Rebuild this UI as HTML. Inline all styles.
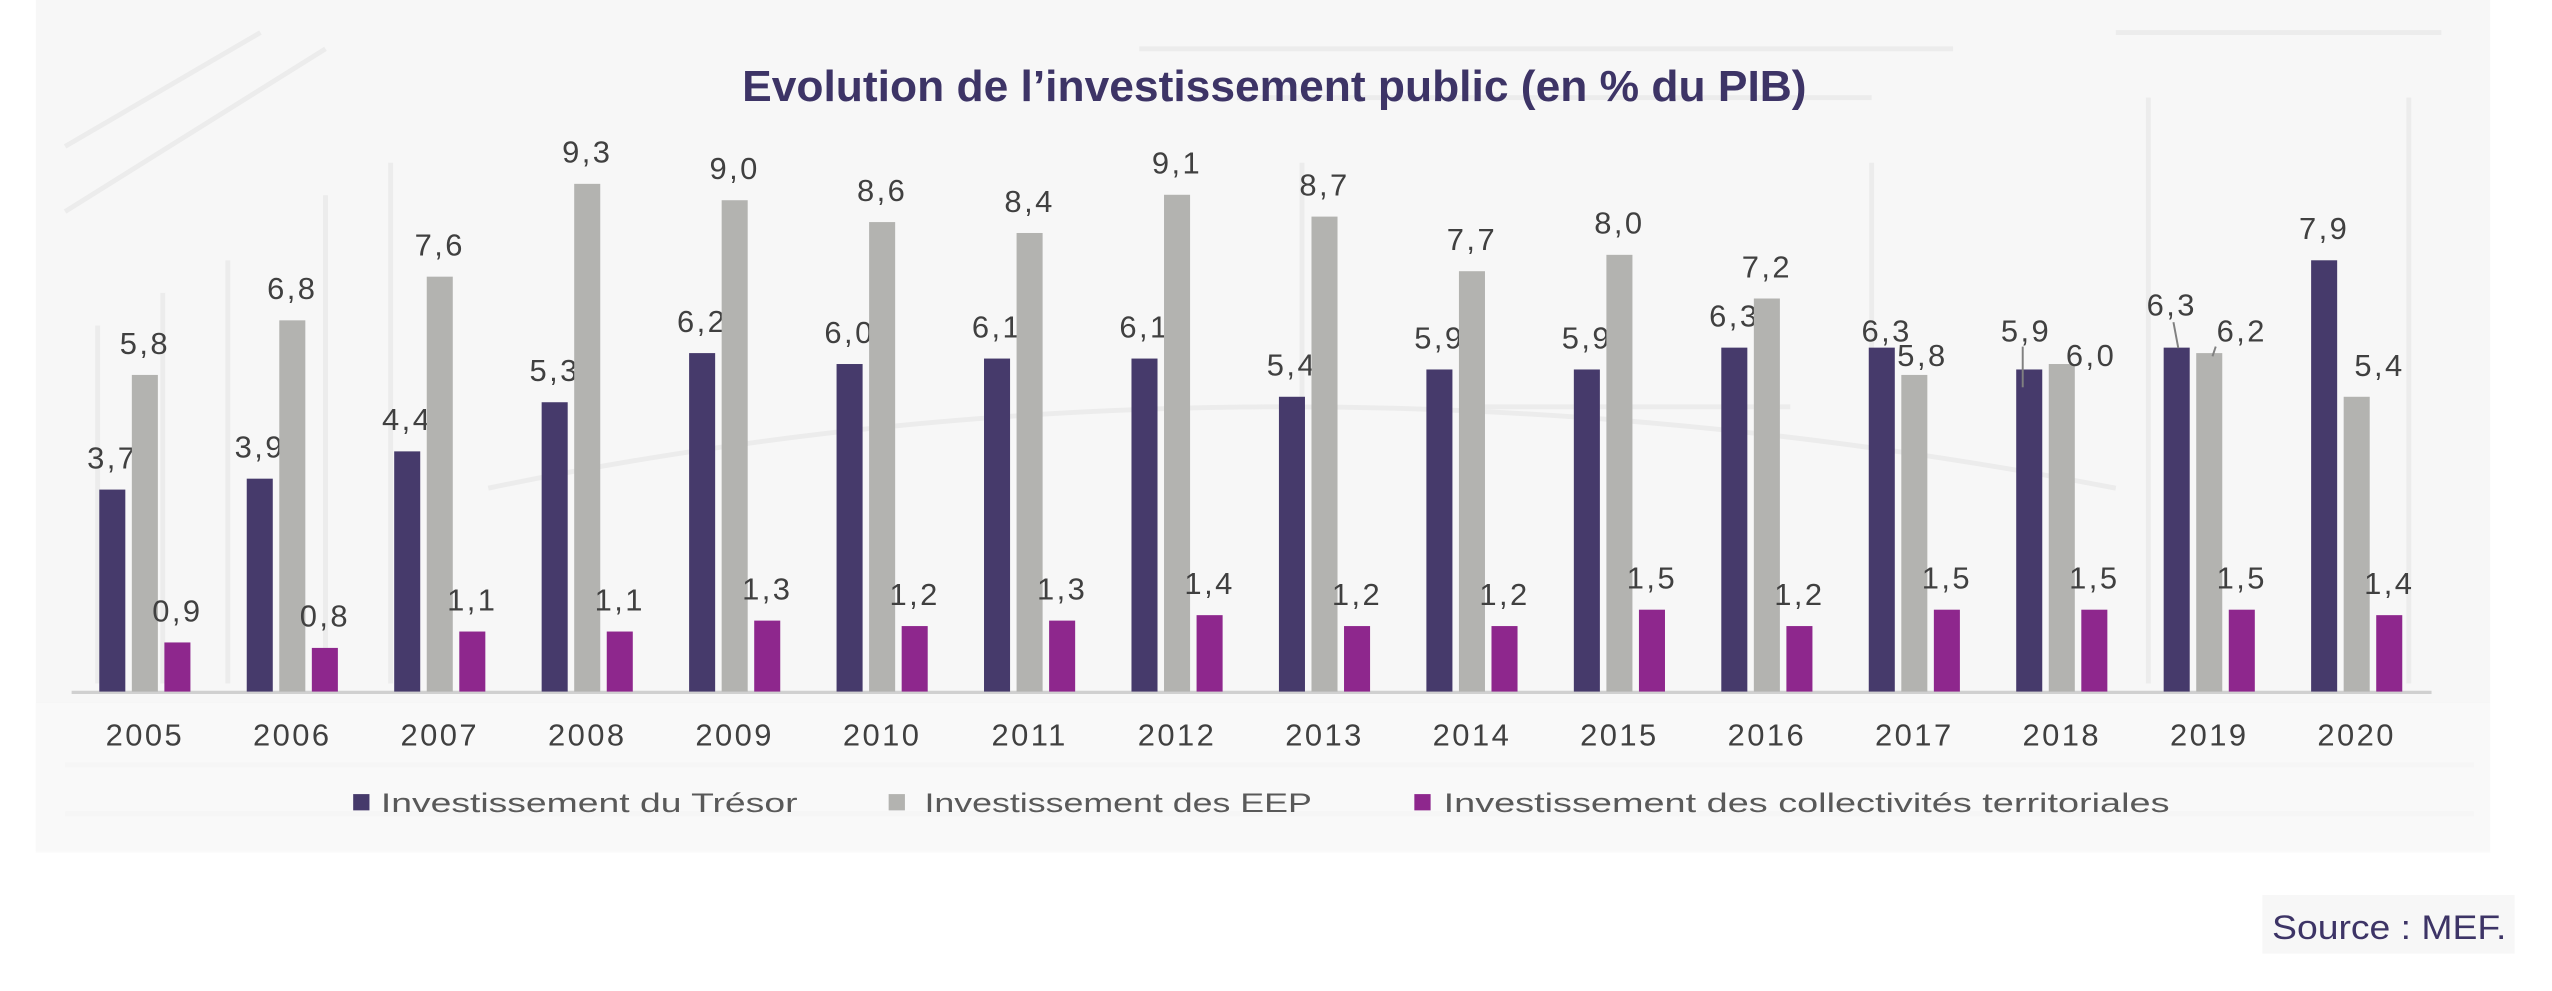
<!DOCTYPE html>
<html><head><meta charset="utf-8"><style>
html,body{margin:0;padding:0;background:#fff;}
svg{display:block;}
text{font-family:"Liberation Sans",sans-serif;}
</style></head><body>
<svg id="s" width="2552" height="991" viewBox="0 0 1568 609" preserveAspectRatio="none" xmlns="http://www.w3.org/2000/svg">
<rect x="0" y="0" width="1568" height="609" fill="#fff"/>
<rect x="22" y="0" width="1508" height="523" fill="#f7f7f7"/>
<g stroke="#ececec" stroke-width="3" fill="none">
<path d="M40 90 L160 20 M40 130 L200 30 M60 200 L60 420 M100 180 L100 420 M140 160 L140 420 M200 120 L200 420 M240 100 L240 420"/>
<path d="M700 30 L1200 30 M760 60 L1150 60 M800 100 L800 420 M1150 100 L1150 420 M900 250 L1100 250 M1300 20 L1500 20 M1320 60 L1320 420 M1480 60 L1480 420"/>
<path d="M300 300 Q780 200 1300 300 M40 470 L1520 470 M40 500 L1520 500"/>
</g>
<rect x="22" y="432" width="1508" height="92" fill="#f9f9f9" opacity="0.8"/>
<text x="783" y="62" text-anchor="middle" font-size="27" font-weight="bold" fill="#3d3466" textLength="654" lengthAdjust="spacingAndGlyphs">Evolution de l’investissement public (en % du PIB)</text>
<line x1="44" y1="425.5" x2="1494" y2="425.5" stroke="#d0d0d0" stroke-width="2"/>
<g id="bars"></g>
<g font-size="16.5" fill="#595959">
<rect x="217" y="488" width="10" height="10" fill="#463a6b"/>
<text x="234" y="499" textLength="256" lengthAdjust="spacingAndGlyphs">Investissement du Trésor</text>
<rect x="546" y="488" width="10" height="10" fill="#b3b3b0"/>
<text x="568" y="499" textLength="238" lengthAdjust="spacingAndGlyphs">Investissement des EEP</text>
<rect x="869" y="488" width="10" height="10" fill="#8e278d"/>
<text x="887" y="499" textLength="446" lengthAdjust="spacingAndGlyphs">Investissement des collectivités territoriales</text>
</g>
<rect x="1390" y="550" width="155" height="36" fill="#f7f7f7"/>
<text x="1396" y="577" font-size="21" fill="#3d3466" textLength="144" lengthAdjust="spacingAndGlyphs">Source : MEF.</text>
</svg>
<script>
var T=[3.7,3.9,4.4,5.3,6.2,6.0,6.1,6.1,5.4,5.9,5.9,6.3,6.3,5.9,6.3,7.9];
var E=[5.8,6.8,7.6,9.3,9.0,8.6,8.4,9.1,8.7,7.7,8.0,7.2,5.8,6.0,6.2,5.4];
var C=[0.9,0.8,1.1,1.1,1.3,1.2,1.3,1.4,1.2,1.2,1.5,1.2,1.5,1.5,1.5,1.4];
var cols=["#463a6b","#b3b3b0","#8e278d"];
var K=33.55,B=425,h="";
function f(v){return v.toFixed(1).replace(".",",");}
function lab(x,y,t){return '<text x="'+x+'" y="'+y+'" text-anchor="middle" font-size="19" letter-spacing="1.5" fill="#404040">'+t+'</text>';}
for(var i=0;i<16;i++){
 var c=89+90.6*i;
 [T[i],E[i],C[i]].forEach(function(v,j){
  var x=c-28+20*j, top=B-v*K;
  h+='<rect x="'+x+'" y="'+top+'" width="16" height="'+(v*K)+'" fill="'+cols[j]+'"/>';
  var lx=x+8, ly=top-13;
  if(i==12&&j==0){lx=c-17;ly=210;}
  if(i==12&&j==1){lx=c+5;ly=225;}
  if(i==13&&j==0){lx=c-22;ly=210;h+='<line x1="'+(c-24)+'" y1="213" x2="'+(c-24)+'" y2="238" stroke="#808080" stroke-width="1.2"/>';}
  if(i==13&&j==1){lx=c+18;ly=225;}
  if(i==14&&j==0){lx=c-23;ly=194;h+='<line x1="'+(c-22)+'" y1="198" x2="'+(c-19)+'" y2="214" stroke="#808080" stroke-width="1.2"/>';}
  if(i==14&&j==1){lx=c+20;ly=210;h+='<line x1="'+(c+4)+'" y1="213" x2="'+(c+2)+'" y2="219" stroke="#808080" stroke-width="1.2"/>';}
  if(i==15&&j==1){lx=c+14;ly=231;}
  h+=lab(lx,ly,f(v));
 });
 h+='<text x="'+c+'" y="458" text-anchor="middle" font-size="19" letter-spacing="1.5" fill="#404040">'+(2005+i)+'</text>';
}
document.getElementById("bars").innerHTML=h;
</script>
</body></html>
